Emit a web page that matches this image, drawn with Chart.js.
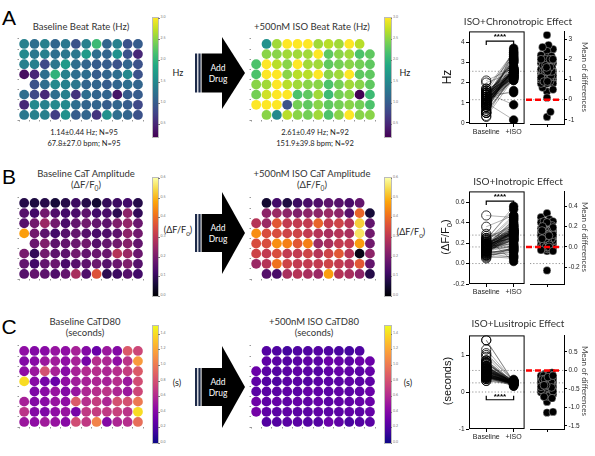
<!DOCTYPE html>
<html lang="en">
<head>
<meta charset="UTF-8">
<title>ISO effects on plate</title>
<script src="https://cdn.jsdelivr.net/npm/chart.js"></script>
<style>
    body { margin: 0; background: #fff; }
    #fig { position: relative; width: 595px; height: 456px; overflow: hidden; font-family: Lato, "Open Sans", sans-serif; color: #222; }
    .t { position: absolute; white-space: nowrap; transform: translate(-50%, -50%); line-height: 1; }
    .cb { position: absolute; }
    canvas { position: absolute; }
</style>
</head>
<body>
<div id="fig"></div>
<script>
    // plate layout
    const rowNames = ['A', 'B', 'C', 'D', 'E', 'F', 'G', 'H'];
    const colNames = [1, 2, 3, 4, 5, 6, 7, 8, 9, 10, 11, 12];

    // beat rate (Hz), null = no well
    const rateBase = [
        [1.4, 1.2, 1.4, 1.1, 1.3, 0.9, 1.4, 2.1, 1.1, 1.4, 0.9, 1.0],
        [1.5, 1.3, 1.4, 1.2, 1.3, 1.3, 1.7, 1.2, 1.1, 1.6, 0.9, 0.5],
        [1.4, 1.4, 0.8, 1.3, 1.7, 1.2, 1.1, 1.0, 1.0, 0.9, 1.1, 0.9],
        [0.3, 0.5, 1.2, 2.0, 1.4, 1.2, 1.2, 1.0, 1.1, 1.2, 1.5, 0.9],
        [null, 0.9, 1.2, 1.5, 1.4, 1.3, 1.1, 1.1, 1.0, 1.1, 1.2, 1.1],
        [1.2, 0.8, 0.5, 1.2, 1.4, 0.6, 1.2, 1.1, 1.1, 0.35, 1.0, 1.0],
        [0.5, 1.5, 1.4, 1.5, 1.5, 1.2, 1.1, 1.1, 1.0, 1.1, 1.0, 0.8],
        [1.3, 1.4, 1.4, 0.7, 1.6, 1.0, 1.1, 0.6, 1.6, 1.2, 1.1, 0.9]
    ];
    const rateIso = [
        [null, 1.6, 2.6, 3.2, 3.1, 3.4, 2.6, 2.7, 2.6, 3.1, 2.7, null],
        [null, 2.5, 2.5, 2.6, 2.6, 2.6, 3.3, 2.3, 2.5, 2.6, 2.2, 2.3],
        [2.2, 3.0, 2.7, 2.5, 3.5, 2.6, 2.6, 2.3, 2.4, 2.5, 2.4, 2.3],
        [2.2, 3.2, 3.6, 2.5, 2.7, 2.7, 3.4, 2.5, 2.6, 3.1, 2.3, 2.3],
        [2.5, 2.6, 3.3, 2.7, 2.6, 2.5, 2.5, 2.2, 2.4, 2.6, 2.5, 2.3],
        [2.4, 2.8, 3.7, 3.0, 2.2, 2.3, 2.6, 2.1, 2.4, 2.5, 0.15, 2.1],
        [3.1, 3.5, 3.0, 0.9, 2.4, 2.3, 2.5, 2.3, 2.4, 2.5, 2.4, 2.2],
        [null, 2.5, 1.5, 2.7, 2.5, 2.4, 2.6, 2.2, 2.5, 3.2, 2.5, 2.5]
    ];

    // CaT amplitude (dF/F0)
    const ampBase = [
        [0.08, 0.07, 0.08, 0.06, 0.08, 0.11, 0.08, 0.05, 0.10, 0.11, 0.12, 0.08],
        [0.15, 0.12, 0.19, 0.14, 0.12, 0.13, 0.16, 0.12, 0.13, 0.09, 0.23, 0.10],
        [0.15, 0.19, 0.25, 0.19, 0.13, 0.17, 0.19, 0.17, 0.16, 0.21, 0.24, 0.18],
        [0.47, 0.19, 0.16, 0.12, 0.15, 0.17, 0.15, 0.13, 0.14, 0.16, 0.23, 0.19],
        [null, 0.18, 0.21, 0.16, 0.17, 0.18, 0.19, 0.15, 0.17, 0.19, 0.22, 0.17],
        [0.20, 0.10, 0.19, 0.16, 0.16, 0.19, 0.17, 0.18, 0.18, 0.29, 0.25, 0.18],
        [0.17, 0.12, 0.17, 0.18, 0.13, 0.15, 0.16, 0.18, 0.15, 0.18, 0.21, 0.15],
        [0.15, 0.17, 0.16, 0.14, 0.17, 0.27, 0.14, 0.36, 0.09, 0.11, 0.15, 0.12]
    ];
    const ampIso = [
        [null, 0.05, 0.12, 0.07, 0.11, 0.13, 0.14, 0.16, 0.15, 0.13, 0.17, null],
        [null, 0.23, 0.25, 0.23, 0.21, 0.23, 0.23, 0.25, 0.23, 0.15, 0.39, 0.06],
        [0.29, 0.25, 0.37, 0.31, 0.31, 0.31, 0.39, 0.31, 0.33, 0.29, 0.53, 0.17],
        [0.45, 0.35, 0.35, 0.33, 0.33, 0.31, 0.29, 0.27, 0.29, 0.27, 0.56, 0.19],
        [0.35, 0.35, 0.45, 0.43, 0.37, 0.43, 0.25, 0.27, 0.31, 0.31, 0.47, 0.19],
        [0.33, 0.31, 0.35, 0.31, 0.31, 0.33, 0.29, 0.33, 0.37, 0.29, 0.02, 0.23],
        [0.25, 0.29, 0.41, 0.33, 0.31, 0.31, 0.31, 0.33, 0.31, 0.29, 0.37, 0.17],
        [null, 0.15, 0.13, 0.27, 0.29, 0.27, 0.25, 0.47, 0.29, 0.27, 0.23, 0.08]
    ];

    // CaTD80 (seconds)
    const durBase = [
        [0.45, 0.40, 0.42, 0.48, 0.45, 0.55, 0.40, 0.30, 0.50, 0.40, 0.85, 0.75],
        [0.40, 0.42, 0.50, 0.52, 0.45, 0.55, 0.35, 0.62, 0.58, 0.45, 0.65, 1.15],
        [0.45, 0.50, 0.80, 0.55, 0.42, 0.55, 0.60, 0.62, 0.58, 0.62, 0.70, 0.85],
        [1.40, 0.42, 0.35, 0.30, 0.45, 0.52, 0.55, 0.58, 0.55, 0.62, 0.50, 0.78],
        [null, 0.38, 0.42, 0.48, 0.40, 0.48, 0.58, 0.62, 0.65, 0.58, 0.50, 0.75],
        [0.55, 0.40, 0.42, 0.48, 0.45, 0.85, 0.62, 0.70, 0.58, 0.80, 0.80, 1.00],
        [0.65, 0.40, 0.38, 0.45, 0.48, 0.35, 0.68, 0.70, 0.68, 0.72, 0.65, 1.40],
        [0.50, 0.45, 0.52, 0.48, 0.42, 0.78, 0.68, 1.05, 0.40, 0.58, 0.62, 0.95]
    ];
    const durIso = [
        [null, 0.22, 0.20, 0.16, 0.20, 0.20, 0.22, 0.20, 0.18, 0.16, 0.20, null],
        [null, 0.26, 0.24, 0.22, 0.24, 0.26, 0.24, 0.30, 0.28, 0.24, 0.30, 0.30],
        [0.30, 0.24, 0.22, 0.24, 0.26, 0.24, 0.22, 0.26, 0.28, 0.26, 0.24, 0.28],
        [0.26, 0.22, 0.20, 0.24, 0.24, 0.22, 0.24, 0.24, 0.24, 0.26, 0.24, 0.26],
        [0.24, 0.24, 0.24, 0.26, 0.24, 0.28, 0.26, 0.24, 0.26, 0.24, 0.26, 0.30],
        [0.32, 0.26, 0.28, 0.26, 0.28, 0.26, 0.28, 0.24, 0.26, 0.26, 0.28, 0.30],
        [0.34, 0.26, 0.24, 0.26, 0.24, 0.24, 0.26, 0.24, 0.24, 0.26, 0.24, 0.28],
        [null, 0.22, 0.22, 0.24, 0.24, 0.22, 0.22, 0.30, 0.26, 0.18, 0.22, 0.24]
    ];

    // colorbar ticks
    const rateTicks = [0.5, 1.0, 1.5, 2.0, 2.5, 3.0];
    const ampTicks = [0.0, 0.1, 0.2, 0.3, 0.4, 0.5, 0.6];
    const durTicks = [0.0, 0.2, 0.4, 0.6, 0.8, 1.0, 1.2, 1.4];

    const rateBaseStats = ['1.14±0.44 Hz; N=95', '67.8±27.0 bpm; N=95'];
    const rateIsoStats = ['2.61±0.49 Hz; N=92', '151.9±39.8 bpm; N=92'];

    // colormaps
    const cmaps = {
        viridis: ['#440154', '#482475', '#414487', '#355f8d', '#2a788e', '#21918c', '#22a884', '#44bf70', '#7ad151', '#bddf26', '#fde725'],
        inferno: ['#000004', '#160b39', '#420a68', '#6a176e', '#932667', '#bc3754', '#dd513a', '#f37819', '#fca50a', '#f6d746', '#fcffa4'],
        plasma: ['#0d0887', '#41049d', '#6a00a8', '#8f0da4', '#b12a90', '#cc4778', '#e16462', '#f2844b', '#fca636', '#fcce25', '#f0f921']
    };
    function hex(h) { return [1, 3, 5].map(i => parseInt(h.substr(i, 2), 16)); }
    function cmapColor(name, f) {
        const s = cmaps[name];
        f = Math.max(0, Math.min(1, f)) * (s.length - 1);
        const i = Math.min(Math.floor(f), s.length - 2), t = f - i;
        const a = hex(s[i]), b = hex(s[i + 1]);
        return 'rgb(' + a.map((v, k) => Math.round(v + (b[k] - v) * t)).join(',') + ')';
    }

    const fig = document.getElementById('fig');
    Chart.defaults.font.family = '"Liberation Sans", Arial, sans-serif';
    Chart.defaults.color = '#333';

    function txt(html, x, y, size, extra) {
        const d = document.createElement('div');
        d.className = 't';
        d.innerHTML = html;
        d.style.left = x + 'px';
        d.style.top = y + 'px';
        d.style.fontSize = size + 'px';
        if (extra) Object.assign(d.style, extra);
        fig.appendChild(d);
        return d;
    }
    function canvasAt(x, y, w, h) {
        const c = document.createElement('canvas');
        c.width = w; c.height = h;
        c.style.left = x + 'px'; c.style.top = y + 'px';
        c.style.width = w + 'px'; c.style.height = h + 'px';
        fig.appendChild(c);
        return c;
    }

    // plate heatmap as a bubble scatter; left/top = position of chart area
    function heatmap(left, top, vals, cmap, vmin, vmax) {
        const cw = 10.55, ch = 10.5;
        const W = Math.round(cw * 12 + 10), H = Math.round(ch * 8 + 10);
        const cv = canvasAt(Math.round(left - 8), Math.round(top - 2), W, H);
        const pts = [];
        vals.forEach((row, r) => row.forEach((v, c) => {
            if (v !== null) pts.push({ x: c + 1, y: r + 1, v: v });
        }));
        new Chart(cv, {
            type: 'scatter',
            data: {
                datasets: [{
                    data: pts,
                    pointRadius: 4.9,
                    pointHoverRadius: 4.9,
                    borderWidth: 0,
                    backgroundColor: ctx => ctx.raw ? cmapColor(cmap, (ctx.raw.v - vmin) / (vmax - vmin)) : '#000'
                }]
            },
            options: {
                responsive: false, animation: false, events: [],
                layout: { padding: { top: 2, right: 2, left: 0, bottom: 0 } },
                plugins: { legend: { display: false }, tooltip: { enabled: false } },
                scales: {
                    x: {
                        min: 0.5, max: 12.5, border: { display: false },
                        grid: { display: true, drawOnChartArea: false, tickLength: 1.5, color: '#999' },
                        ticks: { stepSize: 1, includeBounds: false, autoSkip: false, maxRotation: 0, padding: 1,
                            font: { size: 3.5 }, color: '#777', callback: v => Number.isInteger(v) ? colNames[v - 1] : '' },
                        afterFit: s => { s.height = 8; }
                    },
                    y: {
                        min: 0.5, max: 8.5, reverse: true, border: { display: false },
                        grid: { display: true, drawOnChartArea: false, tickLength: 1.5, color: '#999' },
                        ticks: { stepSize: 1, includeBounds: false, autoSkip: false, padding: 1,
                            font: { size: 3.5 }, color: '#777', callback: v => Number.isInteger(v) ? rowNames[v - 1] : '' },
                        afterFit: s => { s.width = 8; }
                    }
                }
            }
        });
    }

    function colorbar(left, top, w, h, cmap, vmin, vmax, ticks, fmt) {
        const d = document.createElement('div');
        d.className = 'cb';
        const stops = cmaps[cmap].map((c, i, a) => c + ' ' + (i / (a.length - 1) * 100) + '%').join(',');
        Object.assign(d.style, { left: left + 'px', top: top + 'px', width: w + 'px', height: h + 'px',
            background: 'linear-gradient(to top,' + stops + ')', outline: '0.5px solid #bbb' });
        fig.appendChild(d);
        ticks.forEach(t => {
            const y = top + h - (t - vmin) / (vmax - vmin) * h;
            const m = document.createElement('div');
            m.className = 'cb';
            Object.assign(m.style, { left: (left + w) + 'px', top: y + 'px', width: '1.5px', height: '0.5px', background: '#777' });
            fig.appendChild(m);
            txt(t.toFixed(fmt), left + w + 5, y, 3.5, { color: '#777' });
        });
    }

    // deterministic beeswarm offsets in pixels
    function swarm(vals, pxPerY, diam, maxW) {
        const order = vals.map((v, k) => k).sort((a, b) => vals[a] - vals[b]);
        const placed = [], off = new Array(vals.length).fill(0);
        order.forEach(k => {
            const y = vals[k] * pxPerY;
            let best = 0, bestScore = -1, done = false;
            for (let s = 0; s <= maxW && !done; s += 0.5) {
                for (const x of (s === 0 ? [0] : [s, -s])) {
                    let dmin = Infinity;
                    placed.forEach(p => { dmin = Math.min(dmin, Math.hypot(p.x - x, p.y - y)); });
                    if (dmin >= diam) { best = x; done = true; break; }
                    if (dmin > bestScore) { bestScore = dmin; best = x; }
                }
            }
            off[k] = best;
            placed.push({ x: best, y: y });
        });
        return off;
    }

    const mean = a => a.reduce((s, v) => s + v, 0) / a.length;

    // paired estimation plot: left = paired values, right = differences
    function estimation(o) {
        const pairs = [];
        o.base.forEach((row, r) => row.forEach((b, c) => {
            const i = o.iso[r][c];
            if (b !== null && i !== null) pairs.push([b, i]);
        }));
        const mB = mean(o.base.flat().filter(v => v !== null));
        const mI = mean(o.iso.flat().filter(v => v !== null));
        const L = 469, R = 530, R2 = 564, T = o.top, B = o.bottom;
        const axW = 16, axH = 14, padT = 3;

        const guides = {
            id: 'guides',
            beforeDatasetsDraw(chart, args, opts) {
                const { ctx, chartArea: a, scales } = chart;
                ctx.save();
                ctx.strokeStyle = '#777'; ctx.lineWidth = 0.8; ctx.setLineDash([1.2, 2]);
                opts.lines.forEach(v => {
                    const y = scales.y.getPixelForValue(v);
                    ctx.beginPath(); ctx.moveTo(a.left, y); ctx.lineTo(a.right, y); ctx.stroke();
                });
                ctx.restore();
            }
        };

        // left panel
        const lineData = pairs.flatMap(([b, i]) => [{ x: 0, y: b }, { x: 1, y: i }, { x: 0.5, y: null }]);
        const cv1 = canvasAt(L - axW, T - padT, R - L + axW, B - T + padT + axH);
        const xLabels = ['Baseline', '+ISO'];
        new Chart(cv1, {
            type: 'scatter',
            data: {
                datasets: [
                    { data: pairs.map(p => ({ x: 1, y: p[1] })), pointRadius: 4.3, backgroundColor: '#000', borderColor: '#000', borderWidth: 0.6, order: 1 },
                    { data: pairs.map(p => ({ x: 0, y: p[0] })), pointRadius: 4.6, backgroundColor: 'rgba(255,255,255,0)', borderColor: '#000', borderWidth: 0.8, order: 2 },
                    { type: 'line', data: lineData, borderColor: 'rgba(0,0,0,0.6)', borderWidth: 0.5, pointRadius: 0, spanGaps: false, order: 3 }
                ]
            },
            options: {
                responsive: false, animation: false, events: [],
                layout: { padding: { top: padT, right: 0, left: 0, bottom: 0 } },
                plugins: {
                    legend: { display: false }, tooltip: { enabled: false },
                    guides: { lines: o.zeroLine ? [mB, mI, 0] : [mB, mI] }
                },
                scales: {
                    x: {
                        min: -0.63, max: 1.4, border: { display: false },
                        grid: { display: true, drawOnChartArea: false, tickLength: 3, color: '#000' },
                        afterBuildTicks: s => { s.ticks = [{ value: 0 }, { value: 1 }]; },
                        ticks: { autoSkip: false, maxRotation: 0, padding: 1, font: { size: 7 }, color: '#222', callback: v => xLabels[v] },
                        afterFit: s => { s.height = axH; }
                    },
                    y: {
                        min: o.yMin, max: o.yMax, border: { display: false },
                        grid: { display: true, drawOnChartArea: false, tickLength: 3, color: '#000' },
                        ticks: { stepSize: o.step, includeBounds: false, padding: 1.5, font: { size: 6.5 }, color: '#222', callback: v => v.toFixed(o.fmt) },
                        afterFit: s => { s.width = axW; }
                    }
                }
            },
            plugins: [guides, {
                id: 'frame',
                afterDatasetsDraw(chart) {
                    const { ctx, chartArea: a, scales } = chart;
                    ctx.save();
                    ctx.strokeStyle = '#000'; ctx.lineWidth = 1;
                    ctx.strokeRect(a.left + 0.5, a.top + 0.5, a.width - 1, a.height - 1);
                    // significance bracket
                    const x0 = scales.x.getPixelForValue(0), x1 = scales.x.getPixelForValue(1);
                    const y = scales.y.getPixelForValue(o.bracket), d = o.bracketUp ? -4 : 4;
                    ctx.lineWidth = 1.2;
                    ctx.beginPath();
                    ctx.moveTo(x0, y + d); ctx.lineTo(x0, y); ctx.lineTo(x1, y); ctx.lineTo(x1, y + d);
                    ctx.stroke();
                    ctx.fillStyle = '#000';
                    ctx.font = 'bold 8px "Liberation Sans", Arial, sans-serif';
                    ctx.textAlign = 'center'; ctx.textBaseline = 'bottom';
                    ctx.fillText('****', (x0 + x1) / 2, o.bracketUp ? y + 1 : y);
                    ctx.restore();
                }
            }]
        });

        // right panel: differences
        const diffs = pairs.map(p => p[1] - p[0]);
        const pxPerY = (B - T) / (o.yMax - o.yMin);
        const pxPerX = (R2 - R) / 2;
        const offs = swarm(diffs, pxPerY, 6, 6);
        const padL = 5;
        const cv2 = canvasAt(R - padL, T - padT, padL + R2 - R + axW, B - T + padT + axH);
        new Chart(cv2, {
            type: 'scatter',
            data: {
                datasets: [{
                    data: diffs.map((d, k) => ({ x: offs[k] / pxPerX, y: d })),
                    pointRadius: 3.9, backgroundColor: '#000', borderColor: 'rgba(255,255,255,0.7)', borderWidth: 0.5
                }]
            },
            options: {
                responsive: false, animation: false, events: [],
                layout: { padding: { top: padT, right: 0, left: padL, bottom: 0 } },
                plugins: {
                    legend: { display: false }, tooltip: { enabled: false },
                    guides: { lines: o.zeroLine ? [0, mI - mB, -mB] : [0, mI - mB] }
                },
                scales: {
                    x: {
                        min: -1, max: 1, border: { display: true, color: '#000', width: 1 },
                        grid: { display: true, drawOnChartArea: false, tickLength: 3, color: '#000' },
                        afterBuildTicks: s => { s.ticks = [{ value: 0 }]; },
                        ticks: { callback: () => '', font: { size: 6 } },
                        afterFit: s => { s.height = axH; }
                    },
                    y: {
                        position: 'right', min: o.yMin - mB, max: o.yMax - mB,
                        border: { display: true, color: '#000', width: 1 },
                        grid: { display: true, drawOnChartArea: false, tickLength: 3, color: '#000' },
                        ticks: { stepSize: o.rStep, includeBounds: false, padding: 1.5, font: { size: 6.5 }, color: '#222', callback: v => v.toFixed(o.rFmt) },
                        afterFit: s => { s.width = axW; }
                    }
                }
            },
            plugins: [guides, {
                id: 'zeroMark',
                afterDatasetsDraw(chart) {
                    const { ctx, chartArea: a, scales } = chart;
                    const y = scales.y.getPixelForValue(0);
                    ctx.save();
                    ctx.strokeStyle = '#ff0000'; ctx.lineWidth = 2.6; ctx.setLineDash([6, 3]);
                    ctx.beginPath(); ctx.moveTo(a.left - 4, y); ctx.lineTo(a.right - 3, y); ctx.stroke();
                    ctx.restore();
                }
            }]
        });

        txt(o.title, 518, o.titleY, 10, { color: '#333' });
        txt(o.ylabel, 447, (T + B) / 2, o.ylabelSize, { transform: 'translate(-50%,-50%) rotate(-90deg)', fontFamily: '"Liberation Sans", Arial, sans-serif', color: '#111' });
        txt('Mean of differences', 585, (T + B) / 2, 8, { transform: 'translate(-50%,-50%) rotate(90deg)', color: '#444' });
    }

    // arrow with "Add Drug"
    function arrow(cy, bodyHalf, headHalf) {
        const ns = 'http://www.w3.org/2000/svg';
        const svg = document.createElementNS(ns, 'svg');
        svg.setAttribute('width', 60); svg.setAttribute('height', 2 * headHalf + 2);
        svg.style.cssText = 'position:absolute;left:192px;top:' + (cy - headHalf - 1) + 'px';
        const oy = headHalf + 1;
        const parts = [
            ['rect', { x: 3, y: oy - bodyHalf, width: 2.2, height: 2 * bodyHalf, fill: '#1e2b4a' }],
            ['rect', { x: 6.4, y: oy - bodyHalf, width: 2.2, height: 2 * bodyHalf, fill: '#1e2b4a' }],
            ['rect', { x: 9.6, y: oy - bodyHalf, width: 22, height: 2 * bodyHalf, fill: '#000' }],
            ['polygon', { points: '30,' + (oy - headHalf) + ' 53,' + oy + ' 30,' + (oy + headHalf), fill: '#000' }]
        ];
        parts.forEach(([tag, attrs]) => {
            const el = document.createElementNS(ns, tag);
            Object.entries(attrs).forEach(([k, v]) => el.setAttribute(k, v));
            svg.appendChild(el);
        });
        fig.appendChild(svg);
        txt('Add', 218, cy - 5, 8.5, { color: '#fff' });
        txt('Drug', 218, cy + 6, 8.5, { color: '#fff' });
    }

    const cbFont = '"Liberation Sans", Arial, sans-serif';

    // ---- panel A
    txt('A', 9, 17, 21, { fontFamily: cbFont, color: '#000' });
    txt('Baseline Beat Rate (Hz)', 81, 27, 9.5, { color: '#333' });
    heatmap(18.7, 35.8, rateBase, 'viridis', 0.19, 3.0);
    colorbar(153, 18, 5, 119, 'viridis', 0.19, 3.0, rateTicks, 1);
    txt('Hz', 178, 72, 9, { color: '#222' });
    txt(rateBaseStats[0], 84, 133, 7.5, { color: '#222' });
    txt(rateBaseStats[1], 84, 144, 7.5, { color: '#222' });
    arrow(72.5, 19.5, 36);
    txt('+500nM ISO Beat Rate (Hz)', 312, 27, 9.5, { color: '#333' });
    heatmap(250.7, 35.8, rateIso, 'viridis', 0.19, 3.0);
    colorbar(385, 18, 5.5, 119, 'viridis', 0.19, 3.0, rateTicks, 1);
    txt('Hz', 405, 72, 9, { color: '#222' });
    txt(rateIsoStats[0], 315, 133, 7.5, { color: '#222' });
    txt(rateIsoStats[1], 315, 144, 7.5, { color: '#222' });
    estimation({ base: rateBase, iso: rateIso, top: 29, bottom: 124, yMin: -0.05, yMax: 4.53, step: 1, fmt: 0, rStep: 1, rFmt: 0,
        bracket: 4.05, bracketUp: false, zeroLine: false, title: 'ISO+Chronotropic Effect', titleY: 21, ylabel: 'Hz', ylabelSize: 12 });

    // ---- panel B
    txt('B', 9, 176, 21, { fontFamily: cbFont, color: '#000' });
    txt('Baseline CaT Amplitude', 86, 174, 9.5, { color: '#333' });
    txt('(ΔF/F<sub style="font-size:70%">0</sub>)', 86, 186, 9.5, { color: '#333' });
    heatmap(18.7, 194.8, ampBase, 'inferno', 0, 0.6);
    colorbar(153, 178, 5, 118, 'inferno', 0, 0.6, ampTicks, 1);
    txt('(ΔF/F<sub style="font-size:70%">0</sub>)', 178, 231, 9, { color: '#222' });
    arrow(233, 19, 41);
    txt('+500nM ISO CaT Amplitude', 312, 174, 9.5, { color: '#333' });
    txt('(ΔF/F<sub style="font-size:70%">0</sub>)', 312, 186, 9.5, { color: '#333' });
    heatmap(250.7, 194.8, ampIso, 'inferno', 0, 0.6);
    colorbar(385, 178, 5.5, 118, 'inferno', 0, 0.6, ampTicks, 1);
    txt('(ΔF/F<sub style="font-size:70%">0</sub>)', 411, 233, 9, { color: '#222' });
    estimation({ base: ampBase, iso: ampIso, top: 189, bottom: 284, yMin: -0.2, yMax: 0.705, step: 0.2, fmt: 1, rStep: 0.2, rFmt: 1,
        bracket: 0.61, bracketUp: false, zeroLine: true, title: 'ISO+Inotropic Effect', titleY: 181, ylabel: '(ΔF/F<sub style="font-size:70%">0</sub>)', ylabelSize: 11 });

    // ---- panel C
    txt('C', 9, 326, 21, { fontFamily: cbFont, color: '#000' });
    txt('Baseline CaTD80', 85, 322, 9.5, { color: '#333' });
    txt('(seconds)', 85, 333, 9.5, { color: '#333' });
    heatmap(18.7, 342.8, durBase, 'plasma', 0, 1.5);
    colorbar(153, 326, 5, 117, 'plasma', 0, 1.5, durTicks, 1);
    txt('(s)', 177, 382, 9, { color: '#222' });
    arrow(387, 19, 41);
    txt('+500nM ISO CaTD80', 314, 322, 9.5, { color: '#333' });
    txt('(seconds)', 314, 333, 9.5, { color: '#333' });
    heatmap(250.7, 342.8, durIso, 'plasma', 0, 1.5);
    colorbar(385, 326, 5.5, 117, 'plasma', 0, 1.5, durTicks, 1);
    txt('(s)', 408, 382, 9, { color: '#222' });
    estimation({ base: durBase, iso: durIso, top: 333, bottom: 429, yMin: -1.0, yMax: 1.53, step: 1, fmt: 0, rStep: 0.5, rFmt: 1,
        bracket: -0.21, bracketUp: true, zeroLine: true, title: 'ISO+Lusitropic Effect', titleY: 323, ylabel: '(seconds)', ylabelSize: 11 });
</script>
</body>
</html>
